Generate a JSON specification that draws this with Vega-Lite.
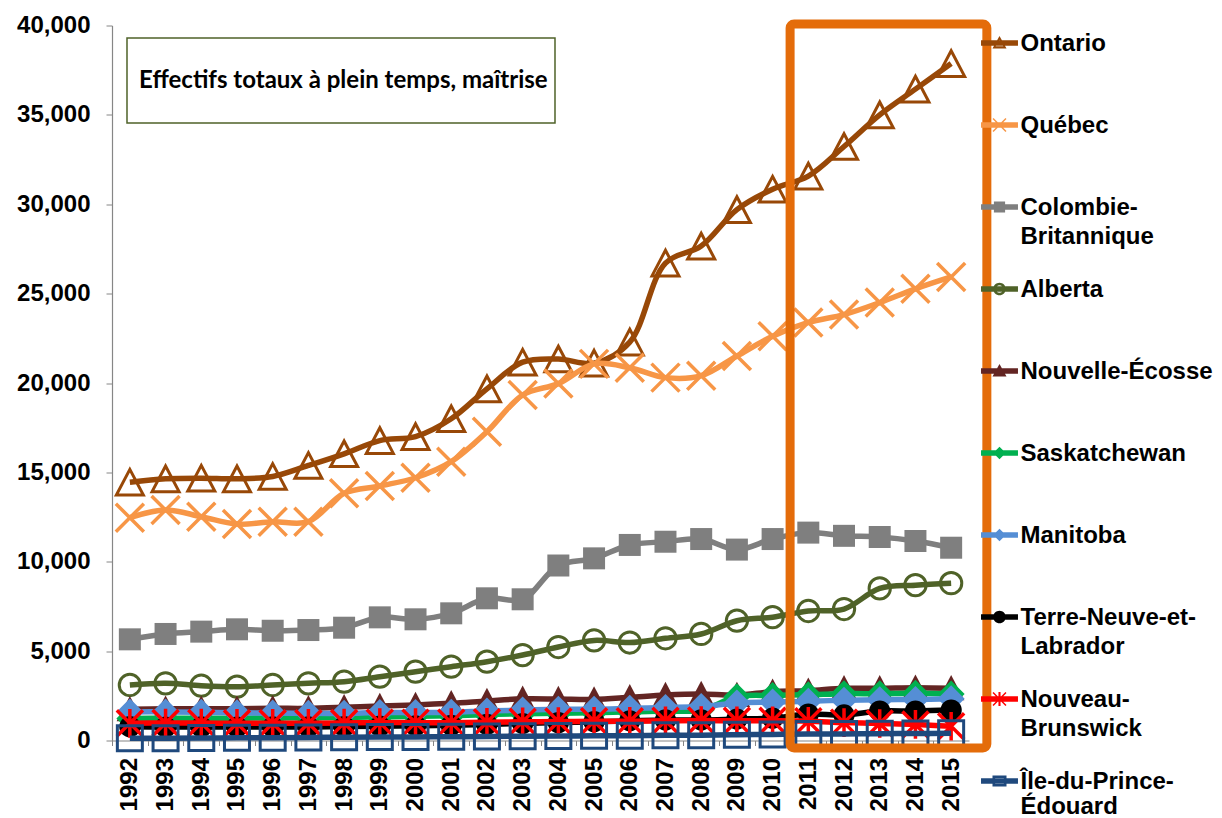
{
  "$schema": "https://vega.github.io/schema/vega-lite/v6.json",
  "width": 857,
  "height": 715,
  "autosize": {"type": "none"},
  "padding": {"left": 112, "top": 25.5, "right": 253, "bottom": 77.5},
  "background": "white",
  "config": {"view": {"stroke": null}, "font": "Liberation Sans"},
  "data": {"values": [
    {"annee":1992,"province":"Ontario","effectif":14450},{"annee":1993,"province":"Ontario","effectif":14640},{"annee":1994,"province":"Ontario","effectif":14675},{"annee":1995,"province":"Ontario","effectif":14640},{"annee":1996,"province":"Ontario","effectif":14770},{"annee":1997,"province":"Ontario","effectif":15385},{"annee":1998,"province":"Ontario","effectif":16040},{"annee":1999,"province":"Ontario","effectif":16780},{"annee":2000,"province":"Ontario","effectif":17000},{"annee":2001,"province":"Ontario","effectif":18000},{"annee":2002,"province":"Ontario","effectif":19675},{"annee":2003,"province":"Ontario","effectif":21165},{"annee":2004,"province":"Ontario","effectif":21340},{"annee":2005,"province":"Ontario","effectif":21110},{"annee":2006,"province":"Ontario","effectif":22290},{"annee":2007,"province":"Ontario","effectif":26710},{"annee":2008,"province":"Ontario","effectif":27660},{"annee":2009,"province":"Ontario","effectif":29700},{"annee":2010,"province":"Ontario","effectif":30840},{"annee":2011,"province":"Ontario","effectif":31575},{"annee":2012,"province":"Ontario","effectif":33230},{"annee":2013,"province":"Ontario","effectif":35000},{"annee":2014,"province":"Ontario","effectif":36440},{"annee":2015,"province":"Ontario","effectif":37870},
    {"annee":1992,"province":"Québec","effectif":12465},{"annee":1993,"province":"Québec","effectif":12895},{"annee":1994,"province":"Québec","effectif":12520},{"annee":1995,"province":"Québec","effectif":12110},{"annee":1996,"province":"Québec","effectif":12240},{"annee":1997,"province":"Québec","effectif":12240},{"annee":1998,"province":"Québec","effectif":13830},{"annee":1999,"province":"Québec","effectif":14240},{"annee":2000,"province":"Québec","effectif":14700},{"annee":2001,"province":"Québec","effectif":15600},{"annee":2002,"province":"Québec","effectif":17275},{"annee":2003,"province":"Québec","effectif":19330},{"annee":2004,"province":"Québec","effectif":19966},{"annee":2005,"province":"Québec","effectif":21070},{"annee":2006,"province":"Québec","effectif":20850},{"annee":2007,"province":"Québec","effectif":20300},{"annee":2008,"province":"Québec","effectif":20410},{"annee":2009,"province":"Québec","effectif":21510},{"annee":2010,"province":"Québec","effectif":22620},{"annee":2011,"province":"Québec","effectif":23390},{"annee":2012,"province":"Québec","effectif":23830},{"annee":2013,"province":"Québec","effectif":24500},{"annee":2014,"province":"Québec","effectif":25270},{"annee":2015,"province":"Québec","effectif":25935},
    {"annee":1992,"province":"Colombie-Britannique","effectif":5660},{"annee":1993,"province":"Colombie-Britannique","effectif":5960},{"annee":1994,"province":"Colombie-Britannique","effectif":6090},{"annee":1995,"province":"Colombie-Britannique","effectif":6220},{"annee":1996,"province":"Colombie-Britannique","effectif":6140},{"annee":1997,"province":"Colombie-Britannique","effectif":6180},{"annee":1998,"province":"Colombie-Britannique","effectif":6310},{"annee":1999,"province":"Colombie-Britannique","effectif":6890},{"annee":2000,"province":"Colombie-Britannique","effectif":6780},{"annee":2001,"province":"Colombie-Britannique","effectif":7115},{"annee":2002,"province":"Colombie-Britannique","effectif":7955},{"annee":2003,"province":"Colombie-Britannique","effectif":7900},{"annee":2004,"province":"Colombie-Britannique","effectif":9790},{"annee":2005,"province":"Colombie-Britannique","effectif":10190},{"annee":2006,"province":"Colombie-Britannique","effectif":10940},{"annee":2007,"province":"Colombie-Britannique","effectif":11120},{"annee":2008,"province":"Colombie-Britannique","effectif":11270},{"annee":2009,"province":"Colombie-Britannique","effectif":10680},{"annee":2010,"province":"Colombie-Britannique","effectif":11270},{"annee":2011,"province":"Colombie-Britannique","effectif":11630},{"annee":2012,"province":"Colombie-Britannique","effectif":11450},{"annee":2013,"province":"Colombie-Britannique","effectif":11385},{"annee":2014,"province":"Colombie-Britannique","effectif":11160},{"annee":2015,"province":"Colombie-Britannique","effectif":10785},
    {"annee":1992,"province":"Alberta","effectif":3105},{"annee":1993,"province":"Alberta","effectif":3200},{"annee":1994,"province":"Alberta","effectif":3065},{"annee":1995,"province":"Alberta","effectif":3010},{"annee":1996,"province":"Alberta","effectif":3105},{"annee":1997,"province":"Alberta","effectif":3200},{"annee":1998,"province":"Alberta","effectif":3290},{"annee":1999,"province":"Alberta","effectif":3570},{"annee":2000,"province":"Alberta","effectif":3850},{"annee":2001,"province":"Alberta","effectif":4130},{"annee":2002,"province":"Alberta","effectif":4410},{"annee":2003,"province":"Alberta","effectif":4780},{"annee":2004,"province":"Alberta","effectif":5230},{"annee":2005,"province":"Alberta","effectif":5600},{"annee":2006,"province":"Alberta","effectif":5480},{"annee":2007,"province":"Alberta","effectif":5720},{"annee":2008,"province":"Alberta","effectif":5960},{"annee":2009,"province":"Alberta","effectif":6700},{"annee":2010,"province":"Alberta","effectif":6900},{"annee":2011,"province":"Alberta","effectif":7245},{"annee":2012,"province":"Alberta","effectif":7356},{"annee":2013,"province":"Alberta","effectif":8510},{"annee":2014,"province":"Alberta","effectif":8690},{"annee":2015,"province":"Alberta","effectif":8800},
    {"annee":1992,"province":"Nouvelle-Écosse","effectif":1745},{"annee":1993,"province":"Nouvelle-Écosse","effectif":1780},{"annee":1994,"province":"Nouvelle-Écosse","effectif":1780},{"annee":1995,"province":"Nouvelle-Écosse","effectif":1780},{"annee":1996,"province":"Nouvelle-Écosse","effectif":1800},{"annee":1997,"province":"Nouvelle-Écosse","effectif":1800},{"annee":1998,"province":"Nouvelle-Écosse","effectif":1860},{"annee":1999,"province":"Nouvelle-Écosse","effectif":1935},{"annee":2000,"province":"Nouvelle-Écosse","effectif":1990},{"annee":2001,"province":"Nouvelle-Écosse","effectif":2080},{"annee":2002,"province":"Nouvelle-Écosse","effectif":2210},{"annee":2003,"province":"Nouvelle-Écosse","effectif":2330},{"annee":2004,"province":"Nouvelle-Écosse","effectif":2320},{"annee":2005,"province":"Nouvelle-Écosse","effectif":2300},{"annee":2006,"province":"Nouvelle-Écosse","effectif":2415},{"annee":2007,"province":"Nouvelle-Écosse","effectif":2545},{"annee":2008,"province":"Nouvelle-Écosse","effectif":2600},{"annee":2009,"province":"Nouvelle-Écosse","effectif":2545},{"annee":2010,"province":"Nouvelle-Écosse","effectif":2730},{"annee":2011,"province":"Nouvelle-Écosse","effectif":2790},{"annee":2012,"province":"Nouvelle-Écosse","effectif":2920},{"annee":2013,"province":"Nouvelle-Écosse","effectif":2920},{"annee":2014,"province":"Nouvelle-Écosse","effectif":2955},{"annee":2015,"province":"Nouvelle-Écosse","effectif":2920},
    {"annee":1992,"province":"Saskatchewan","effectif":1230},{"annee":1993,"province":"Saskatchewan","effectif":1250},{"annee":1994,"province":"Saskatchewan","effectif":1240},{"annee":1995,"province":"Saskatchewan","effectif":1250},{"annee":1996,"province":"Saskatchewan","effectif":1260},{"annee":1997,"province":"Saskatchewan","effectif":1270},{"annee":1998,"province":"Saskatchewan","effectif":1290},{"annee":1999,"province":"Saskatchewan","effectif":1320},{"annee":2000,"province":"Saskatchewan","effectif":1350},{"annee":2001,"province":"Saskatchewan","effectif":1390},{"annee":2002,"province":"Saskatchewan","effectif":1450},{"annee":2003,"province":"Saskatchewan","effectif":1500},{"annee":2004,"province":"Saskatchewan","effectif":1520},{"annee":2005,"province":"Saskatchewan","effectif":1550},{"annee":2006,"province":"Saskatchewan","effectif":1600},{"annee":2007,"province":"Saskatchewan","effectif":1650},{"annee":2008,"province":"Saskatchewan","effectif":1700},{"annee":2009,"province":"Saskatchewan","effectif":2450},{"annee":2010,"province":"Saskatchewan","effectif":2520},{"annee":2011,"province":"Saskatchewan","effectif":2560},{"annee":2012,"province":"Saskatchewan","effectif":2620},{"annee":2013,"province":"Saskatchewan","effectif":2620},{"annee":2014,"province":"Saskatchewan","effectif":2650},{"annee":2015,"province":"Saskatchewan","effectif":2600},
    {"annee":1992,"province":"Manitoba","effectif":1600},{"annee":1993,"province":"Manitoba","effectif":1600},{"annee":1994,"province":"Manitoba","effectif":1580},{"annee":1995,"province":"Manitoba","effectif":1550},{"annee":1996,"province":"Manitoba","effectif":1540},{"annee":1997,"province":"Manitoba","effectif":1520},{"annee":1998,"province":"Manitoba","effectif":1520},{"annee":1999,"province":"Manitoba","effectif":1560},{"annee":2000,"province":"Manitoba","effectif":1560},{"annee":2001,"province":"Manitoba","effectif":1580},{"annee":2002,"province":"Manitoba","effectif":1650},{"annee":2003,"province":"Manitoba","effectif":1700},{"annee":2004,"province":"Manitoba","effectif":1750},{"annee":2005,"province":"Manitoba","effectif":1750},{"annee":2006,"province":"Manitoba","effectif":1800},{"annee":2007,"province":"Manitoba","effectif":1850},{"annee":2008,"province":"Manitoba","effectif":1900},{"annee":2009,"province":"Manitoba","effectif":2100},{"annee":2010,"province":"Manitoba","effectif":2150},{"annee":2011,"province":"Manitoba","effectif":2200},{"annee":2012,"province":"Manitoba","effectif":2250},{"annee":2013,"province":"Manitoba","effectif":2280},{"annee":2014,"province":"Manitoba","effectif":2300},{"annee":2015,"province":"Manitoba","effectif":2330},
    {"annee":1992,"province":"Terre-Neuve-et-Labrador","effectif":770},{"annee":1993,"province":"Terre-Neuve-et-Labrador","effectif":750},{"annee":1994,"province":"Terre-Neuve-et-Labrador","effectif":760},{"annee":1995,"province":"Terre-Neuve-et-Labrador","effectif":750},{"annee":1996,"province":"Terre-Neuve-et-Labrador","effectif":760},{"annee":1997,"province":"Terre-Neuve-et-Labrador","effectif":760},{"annee":1998,"province":"Terre-Neuve-et-Labrador","effectif":780},{"annee":1999,"province":"Terre-Neuve-et-Labrador","effectif":800},{"annee":2000,"province":"Terre-Neuve-et-Labrador","effectif":820},{"annee":2001,"province":"Terre-Neuve-et-Labrador","effectif":850},{"annee":2002,"province":"Terre-Neuve-et-Labrador","effectif":900},{"annee":2003,"province":"Terre-Neuve-et-Labrador","effectif":950},{"annee":2004,"province":"Terre-Neuve-et-Labrador","effectif":1000},{"annee":2005,"province":"Terre-Neuve-et-Labrador","effectif":1050},{"annee":2006,"province":"Terre-Neuve-et-Labrador","effectif":1100},{"annee":2007,"province":"Terre-Neuve-et-Labrador","effectif":1150},{"annee":2008,"province":"Terre-Neuve-et-Labrador","effectif":1150},{"annee":2009,"province":"Terre-Neuve-et-Labrador","effectif":1200},{"annee":2010,"province":"Terre-Neuve-et-Labrador","effectif":1250},{"annee":2011,"province":"Terre-Neuve-et-Labrador","effectif":1480},{"annee":2012,"province":"Terre-Neuve-et-Labrador","effectif":1430},{"annee":2013,"province":"Terre-Neuve-et-Labrador","effectif":1650},{"annee":2014,"province":"Terre-Neuve-et-Labrador","effectif":1650},{"annee":2015,"province":"Terre-Neuve-et-Labrador","effectif":1700},
    {"annee":1992,"province":"Nouveau-Brunswick","effectif":960},{"annee":1993,"province":"Nouveau-Brunswick","effectif":980},{"annee":1994,"province":"Nouveau-Brunswick","effectif":980},{"annee":1995,"province":"Nouveau-Brunswick","effectif":960},{"annee":1996,"province":"Nouveau-Brunswick","effectif":960},{"annee":1997,"province":"Nouveau-Brunswick","effectif":960},{"annee":1998,"province":"Nouveau-Brunswick","effectif":980},{"annee":1999,"province":"Nouveau-Brunswick","effectif":1000},{"annee":2000,"province":"Nouveau-Brunswick","effectif":1000},{"annee":2001,"province":"Nouveau-Brunswick","effectif":1000},{"annee":2002,"province":"Nouveau-Brunswick","effectif":1020},{"annee":2003,"province":"Nouveau-Brunswick","effectif":1050},{"annee":2004,"province":"Nouveau-Brunswick","effectif":1060},{"annee":2005,"province":"Nouveau-Brunswick","effectif":1080},{"annee":2006,"province":"Nouveau-Brunswick","effectif":1080},{"annee":2007,"province":"Nouveau-Brunswick","effectif":1100},{"annee":2008,"province":"Nouveau-Brunswick","effectif":1120},{"annee":2009,"province":"Nouveau-Brunswick","effectif":1100},{"annee":2010,"province":"Nouveau-Brunswick","effectif":1100},{"annee":2011,"province":"Nouveau-Brunswick","effectif":1080},{"annee":2012,"province":"Nouveau-Brunswick","effectif":1000},{"annee":2013,"province":"Nouveau-Brunswick","effectif":950},{"annee":2014,"province":"Nouveau-Brunswick","effectif":900},{"annee":2015,"province":"Nouveau-Brunswick","effectif":800},
    {"annee":1992,"province":"Île-du-Prince-Édouard","effectif":120},{"annee":1993,"province":"Île-du-Prince-Édouard","effectif":130},{"annee":1994,"province":"Île-du-Prince-Édouard","effectif":140},{"annee":1995,"province":"Île-du-Prince-Édouard","effectif":150},{"annee":1996,"province":"Île-du-Prince-Édouard","effectif":160},{"annee":1997,"province":"Île-du-Prince-Édouard","effectif":170},{"annee":1998,"province":"Île-du-Prince-Édouard","effectif":180},{"annee":1999,"province":"Île-du-Prince-Édouard","effectif":190},{"annee":2000,"province":"Île-du-Prince-Édouard","effectif":200},{"annee":2001,"province":"Île-du-Prince-Édouard","effectif":210},{"annee":2002,"province":"Île-du-Prince-Édouard","effectif":220},{"annee":2003,"province":"Île-du-Prince-Édouard","effectif":240},{"annee":2004,"province":"Île-du-Prince-Édouard","effectif":250},{"annee":2005,"province":"Île-du-Prince-Édouard","effectif":260},{"annee":2006,"province":"Île-du-Prince-Édouard","effectif":270},{"annee":2007,"province":"Île-du-Prince-Édouard","effectif":290},{"annee":2008,"province":"Île-du-Prince-Édouard","effectif":300},{"annee":2009,"province":"Île-du-Prince-Édouard","effectif":320},{"annee":2010,"province":"Île-du-Prince-Édouard","effectif":340},{"annee":2011,"province":"Île-du-Prince-Édouard","effectif":360},{"annee":2012,"province":"Île-du-Prince-Édouard","effectif":370},{"annee":2013,"province":"Île-du-Prince-Édouard","effectif":380},{"annee":2014,"province":"Île-du-Prince-Édouard","effectif":390},{"annee":2015,"province":"Île-du-Prince-Édouard","effectif":400}
  ]},
  "encoding": {
    "x": {"field": "annee", "type": "quantitative",
      "scale": {"domain": [1991.5, 2015.5], "nice": false, "zero": false},
      "axis": {"title": null, "values": [1992,1993,1994,1995,1996,1997,1998,1999,2000,2001,2002,2003,2004,2005,2006,2007,2008,2009,2010,2011,2012,2013,2014,2015],
        "format": "d", "labelAngle": -90, "labelAlign": "right", "labelBaseline": "middle",
        "labelFont": "Liberation Sans", "labelFontSize": 24, "labelFontWeight": "bold", "labelColor": "#000000",
        "labelPadding": 12, "labelOverlap": false, "labelFlush": false, "labelBound": false,
        "domainColor": "#868686", "domainWidth": 1.2, "tickColor": "#868686", "tickSize": 5, "tickWidth": 1,
        "tickOffset": -17.85, "labelOffset": 17.85, "grid": false}},
    "y": {"field": "effectif", "type": "quantitative",
      "scale": {"domain": [0, 40000], "nice": false},
      "axis": {"title": null, "values": [0,5000,10000,15000,20000,25000,30000,35000,40000], "format": ",.0f",
        "labelFont": "Liberation Sans", "labelFontSize": 24, "labelFontWeight": "bold", "labelColor": "#000000",
        "labelPadding": 16, "labelOverlap": false, "labelFlush": false,
        "domainColor": "#868686", "domainWidth": 1.2, "tickColor": "#868686", "tickSize": 6, "grid": false}}
  },
  "layer": [
    {"transform": [{"filter": {"field": "province", "equal": "Ontario"}}], "mark": {"type": "line", "color": "#984807", "strokeWidth": 5.5, "interpolate": "catmull-rom"}},
    {"transform": [{"filter": {"field": "province", "equal": "Ontario"}}], "mark": {"type": "point", "shape": "M0,-0.95L1,0.95L-1,0.95Z", "size": 729, "filled": false, "stroke": "#984807", "strokeWidth": 3, "opacity": 1}},
    {"transform": [{"filter": {"field": "province", "equal": "Québec"}}], "mark": {"type": "line", "color": "#F79646", "strokeWidth": 5.5, "interpolate": "catmull-rom"}},
    {"transform": [{"filter": {"field": "province", "equal": "Québec"}}], "mark": {"type": "point", "shape": "M-1,-1L1,1M-1,1L1,-1", "size": 784, "filled": false, "stroke": "#F79646", "strokeWidth": 3.5, "opacity": 1}},
    {"transform": [{"filter": {"field": "province", "equal": "Colombie-Britannique"}}], "mark": {"type": "line", "color": "#7F7F7F", "strokeWidth": 5.5, "interpolate": "catmull-rom"}},
    {"transform": [{"filter": {"field": "province", "equal": "Colombie-Britannique"}}], "mark": {"type": "point", "shape": "square", "size": 484, "filled": true, "fill": "#7F7F7F", "opacity": 1}},
    {"transform": [{"filter": {"field": "province", "equal": "Alberta"}}], "mark": {"type": "line", "color": "#4F6228", "strokeWidth": 5.5, "interpolate": "catmull-rom"}},
    {"transform": [{"filter": {"field": "province", "equal": "Alberta"}}], "mark": {"type": "point", "shape": "circle", "size": 452, "filled": false, "stroke": "#4F6228", "strokeWidth": 3, "opacity": 1}},
    {"transform": [{"filter": {"field": "province", "equal": "Nouvelle-Écosse"}}], "mark": {"type": "line", "color": "#632523", "strokeWidth": 5.5, "interpolate": "catmull-rom"}},
    {"transform": [{"filter": {"field": "province", "equal": "Nouvelle-Écosse"}}], "mark": {"type": "point", "shape": "M0,-1L1,0.9L-1,0.9Z", "size": 700, "filled": true, "fill": "#632523", "opacity": 1}},
    {"transform": [{"filter": {"field": "province", "equal": "Saskatchewan"}}], "mark": {"type": "line", "color": "#00B050", "strokeWidth": 5.5, "interpolate": "catmull-rom"}},
    {"transform": [{"filter": {"field": "province", "equal": "Saskatchewan"}}], "mark": {"type": "point", "shape": "diamond", "size": 729, "filled": true, "fill": "#00B050", "opacity": 1}},
    {"transform": [{"filter": {"field": "province", "equal": "Manitoba"}}], "mark": {"type": "line", "color": "#558ED5", "strokeWidth": 5.5, "interpolate": "catmull-rom"}},
    {"transform": [{"filter": {"field": "province", "equal": "Manitoba"}}], "mark": {"type": "point", "shape": "diamond", "size": 729, "filled": true, "fill": "#558ED5", "opacity": 1}},
    {"transform": [{"filter": {"field": "province", "equal": "Terre-Neuve-et-Labrador"}}], "mark": {"type": "line", "color": "#000000", "strokeWidth": 5.5, "interpolate": "catmull-rom"}},
    {"transform": [{"filter": {"field": "province", "equal": "Terre-Neuve-et-Labrador"}}], "mark": {"type": "point", "shape": "circle", "size": 452, "filled": true, "fill": "#000000", "opacity": 1}},
    {"transform": [{"filter": {"field": "province", "equal": "Nouveau-Brunswick"}}], "mark": {"type": "line", "color": "#FF0000", "strokeWidth": 5.5, "interpolate": "catmull-rom"}},
    {"transform": [{"filter": {"field": "province", "equal": "Nouveau-Brunswick"}}], "mark": {"type": "point", "shape": "M-1,-1L1,1M-1,1L1,-1M0,-1.1L0,1.1", "size": 676, "filled": false, "stroke": "#FF0000", "strokeWidth": 3.5, "opacity": 1}},
    {"transform": [{"filter": {"field": "province", "equal": "Île-du-Prince-Édouard"}}], "mark": {"type": "line", "color": "#1F497D", "strokeWidth": 5.5, "interpolate": "catmull-rom"}},
    {"transform": [{"filter": {"field": "province", "equal": "Île-du-Prince-Édouard"}}], "mark": {"type": "point", "shape": "square", "size": 625, "filled": false, "stroke": "#1F497D", "strokeWidth": 3, "opacity": 1}},
    {"transform": [{"filter": "datum.annee == 1992 && datum.province == 'Ontario'"}],
      "mark": {"type": "rect", "fill": "transparent", "stroke": "#E46C0A", "strokeWidth": 9, "cornerRadius": 4, "clip": false},
      "encoding": {"x": {"datum": 2010.49, "type": "quantitative"}, "x2": {"datum": 2016.0}, "y": {"datum": 40084, "type": "quantitative"}, "y2": {"datum": -420}}},
    {"transform": [{"filter": "datum.annee == 1992 && datum.province == 'Ontario'"}],
      "mark": {"type": "rect", "fill": "#FFFFFF", "stroke": "#4F6228", "strokeWidth": 1.5},
      "encoding": {"x": {"datum": 1991.92, "type": "quantitative"}, "x2": {"datum": 2003.906}, "y": {"datum": 39301, "type": "quantitative"}, "y2": {"datum": 34545}}},
    {"transform": [{"filter": "datum.annee == 1992 && datum.province == 'Ontario'"}],
      "mark": {"type": "text", "text": "Effectifs totaux à plein temps, maîtrise", "font": "Lato", "fontWeight": "bold", "fontSize": 24, "fill": "#000000", "align": "center", "baseline": "middle"},
      "encoding": {"x": {"datum": 1997.98, "type": "quantitative"}, "y": {"datum": 36923, "type": "quantitative"}}},
    {"transform": [{"filter": {"field": "annee", "equal": 1992}}],
      "mark": {"type": "point", "filled": true, "opacity": 0, "strokeWidth": 0},
      "encoding": {
        "fill": {"field": "province", "type": "nominal",
          "scale": {"domain": ["Ontario","Québec","Colombie-Britannique","Alberta","Nouvelle-Écosse","Saskatchewan","Manitoba","Terre-Neuve-et-Labrador","Nouveau-Brunswick","Île-du-Prince-Édouard"],
            "range": ["#984807","#F79646","#7F7F7F","#4F6228","#632523","#00B050","#558ED5","#000000","#FF0000","#1F497D"]},
          "legend": {"title": null, "orient": "right", "offset": 12.5, "padding": 5.5, "symbolSize": 196, "symbolStrokeWidth": 0, "symbolOpacity": 1,
            "labelFont": "Liberation Sans", "labelFontSize": 24, "labelFontWeight": "bold", "labelColor": "#000000", "labelLimit": 300, "labelOffset": 9,
            "rowPadding": 28,
            "labelExpr": "datum.label == 'Colombie-Britannique' ? ['Colombie-', 'Britannique'] : datum.label == 'Terre-Neuve-et-Labrador' ? ['Terre-Neuve-et-', 'Labrador'] : datum.label == 'Nouveau-Brunswick' ? ['Nouveau-', 'Brunswick'] : datum.label == 'Île-du-Prince-Édouard' ? ['Île-du-Prince-', 'Édouard'] : [datum.label, '']",
            "encode": {"labels": {"update": {"dy": {"value": 1}, "lineHeight": {"signal": "datum.value == 'Île-du-Prince-Édouard' ? 25 : 29"}}}}}},
        "shape": {"field": "province", "type": "nominal",
          "scale": {"domain": ["Ontario","Québec","Colombie-Britannique","Alberta","Nouvelle-Écosse","Saskatchewan","Manitoba","Terre-Neuve-et-Labrador","Nouveau-Brunswick","Île-du-Prince-Édouard"],
            "range": [
              "M-2.64,-0.4H2.64V0.4H-2.64Z M0,-1L1,0.8L-1,0.8Z M0,-0.45L-0.55,0.45L0.55,0.45Z",
              "M-2.64,-0.4H2.64V0.4H-2.64Z M-0.85,-1L0,-0.15L0.85,-1L1,-0.85L0.15,0L1,0.85L0.85,1L0,0.15L-0.85,1L-1,0.85L-0.15,0L-1,-0.85Z",
              "M-2.64,-0.4H2.64V0.4H-2.64Z M-0.8,-0.8H0.8V0.8H-0.8Z",
              "M-2.64,-0.4H2.64V0.4H-2.64Z M-0.9,0A0.9,0.9 0 1,1 0.9,0A0.9,0.9 0 1,1 -0.9,0Z M-0.55,0A0.55,0.55 0 1,0 0.55,0A0.55,0.55 0 1,0 -0.55,0Z",
              "M-2.64,-0.4H2.64V0.4H-2.64Z M0,-1L1,0.8L-1,0.8Z",
              "M-2.64,-0.4H2.64V0.4H-2.64Z M0,-0.9L0.9,0L0,0.9L-0.9,0Z",
              "M-2.64,-0.4H2.64V0.4H-2.64Z M0,-0.9L0.9,0L0,0.9L-0.9,0Z",
              "M-2.64,-0.4H2.64V0.4H-2.64Z M-0.9,0A0.9,0.9 0 1,1 0.9,0A0.9,0.9 0 1,1 -0.9,0Z",
              "M-2.64,-0.4H2.64V0.4H-2.64Z M-0.85,-1L0,-0.15L0.85,-1L1,-0.85L0.15,0L1,0.85L0.85,1L0,0.15L-0.85,1L-1,0.85L-0.15,0L-1,-0.85Z M-0.15,-1H0.15V1H-0.15Z",
              "M-2.64,-0.4H2.64V0.4H-2.64Z M-1,-0.8H1V0.8H-1Z M-0.62,-0.42V0.42H0.62V-0.42Z"
            ]}}
      }}
  ]
}
